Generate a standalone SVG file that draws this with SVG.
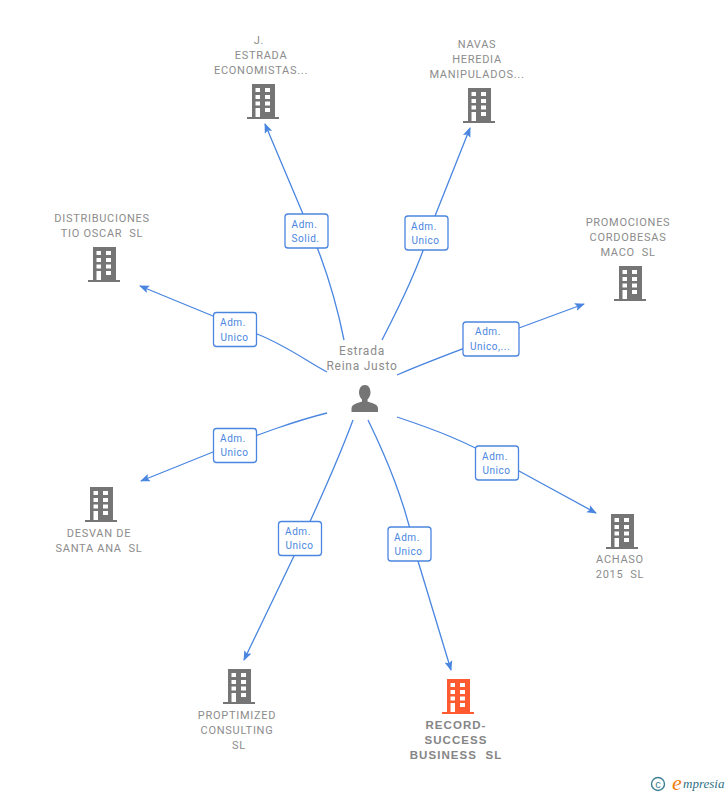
<svg xmlns="http://www.w3.org/2000/svg" width="728" height="795" viewBox="0 0 728 795">
<style>
text{font-family:Roboto,"Liberation Sans",sans-serif;font-size:11px;letter-spacing:.72px;text-anchor:middle;fill:#8c8c8c;white-space:pre}
.c{fill:none;stroke:#4a86e0;stroke-width:1.3}
.box{fill:#fff;stroke:#4a86e0;stroke-width:1.3}
.l text{fill:#4a86e0;font-size:10px;letter-spacing:.55px}
.b{font-family:"Liberation Sans",sans-serif;font-size:11.500px;font-weight:700;letter-spacing:1.05px;fill:#858585}
.p{font-size:12px;letter-spacing:.75px}
.g{fill:#757575}
</style>
<defs>
<marker id="a" markerUnits="userSpaceOnUse" markerWidth="12" markerHeight="12" refX="9" refY="5" orient="auto"><path d="M0 1L10 5L0 9L2 5Z" fill="#4a86e0"/></marker>
<path id="bd" fill-rule="evenodd" d="M5 0H28V33H32V35H0V33H5ZM8.500 4V8H13V4ZM18 4V8H23V4ZM8.500 11V15H13V11ZM18 11V15H23V11ZM8.500 17.500V21.500H13V17.500ZM18 17.500V21.500H23V17.500ZM8.500 24V33H13V24ZM18 24V28H23V24Z"/>
</defs>
<g id="connectors">
<path class="c" marker-end="url(#a)" d="M344 340C335 295 322 255 303 214L265 124"/>
<path class="c" marker-end="url(#a)" d="M382 340C400 305 420 265 435 216L470 128"/>
<path class="c" marker-end="url(#a)" d="M397 375C420 365 445 355 519 328L584 304"/>
<path class="c" marker-end="url(#a)" d="M397 417C430 428 465 440 519 471L596 513"/>
<path class="c" marker-end="url(#a)" d="M368 420C385 455 405 500 418 561L451 670"/>
<path class="c" marker-end="url(#a)" d="M353 420C340 455 318 505 294 556L244 660"/>
<path class="c" marker-end="url(#a)" d="M327 413C295 421 265 432 213 452L141 481"/>
<path class="c" marker-end="url(#a)" d="M327 372C305 360 285 345 257 334L213 316L140 286"/>
</g>
<g class="l">
<g id="edge-label-1"><rect class="box" x="285" y="214" width="43" height="34" rx="3"/><text x="304.500" y="228">Adm.</text><text x="305.500" y="242">Solid.</text></g>
<g id="edge-label-2"><rect class="box" x="405" y="216" width="43" height="34" rx="3"/><text x="424" y="230">Adm.</text><text x="425.500" y="244">Unico</text></g>
<g id="edge-label-3"><rect class="box" x="463" y="322" width="56" height="34" rx="3"/><text x="488" y="335">Adm.</text><text x="490" y="350">Unico,...</text></g>
<g id="edge-label-4"><rect class="box" x="475.500" y="446" width="43" height="34" rx="3"/><text x="495" y="460">Adm.</text><text x="496.500" y="474">Unico</text></g>
<g id="edge-label-5"><rect class="box" x="388" y="527" width="43" height="34" rx="3"/><text x="407" y="541">Adm.</text><text x="408.500" y="555">Unico</text></g>
<g id="edge-label-6"><rect class="box" x="278.500" y="521.500" width="43" height="34" rx="3"/><text x="298" y="535">Adm.</text><text x="299.500" y="549">Unico</text></g>
<g id="edge-label-7"><rect class="box" x="213.500" y="428.500" width="43" height="34" rx="3"/><text x="233" y="442">Adm.</text><text x="234.500" y="456">Unico</text></g>
<g id="edge-label-8"><rect class="box" x="213.500" y="312.500" width="43" height="34" rx="3"/><text x="233" y="326">Adm.</text><text x="234.500" y="341">Unico</text></g>
</g>
<g id="person"><text class="p" x="362" y="355">Estrada</text><text class="p" x="362" y="370">Reina Justo</text>
<path class="g" d="M365 385c-4 0-6 3.500-6 7.500 0 3 1.500 5.500 3 7v2c-3 1.500-10.500 2-10.500 7V412H378V408.500c0-5-7.500-5.500-10.500-7v-2c1.500-1.500 3-4 3-7 0-4-2-7.500-5.500-7.500Z"/></g>
<g id="n-j"><text x="259" y="44">J.</text><text x="261" y="59">ESTRADA</text><text x="261" y="74">ECONOMISTAS...</text><use class="g" href="#bd" x="247" y="84"/></g>
<g id="n-navas"><text x="477" y="48">NAVAS</text><text x="477" y="63">HEREDIA</text><text x="477" y="78">MANIPULADOS...</text><use class="g" href="#bd" x="463" y="88"/></g>
<g id="n-promo"><text x="628" y="226">PROMOCIONES</text><text x="628" y="241">CORDOBESAS</text><text x="628" y="256">MACO  SL</text><use class="g" href="#bd" x="614" y="266"/></g>
<g id="n-achaso"><use class="g" href="#bd" x="606" y="514"/><text x="620" y="563">ACHASO</text><text x="620" y="578">2015  SL</text></g>
<g id="n-record"><use href="#bd" x="442" y="679" fill="#ff5a30"/><text class="b" x="456" y="729">RECORD-</text><text class="b" x="456" y="744">SUCCESS</text><text class="b" x="456" y="759">BUSINESS  SL</text></g>
<g id="n-proptimized"><use class="g" href="#bd" x="223" y="669"/><text x="237" y="719">PROPTIMIZED</text><text x="237" y="734">CONSULTING</text><text x="239" y="749">SL</text></g>
<g id="n-desvan"><use class="g" href="#bd" x="85" y="487"/><text x="99" y="537">DESVAN DE</text><text x="99" y="552">SANTA ANA  SL</text></g>
<g id="n-distrib"><text x="102" y="222">DISTRIBUCIONES</text><text x="102" y="237">TIO OSCAR  SL</text><use class="g" href="#bd" x="88" y="247"/></g>
<g id="logo"><circle cx="658" cy="784" r="6.500" fill="none" stroke="#3f7f95" stroke-width="1.400"/><text x="658" y="788" style="font-family:'Liberation Sans',sans-serif;font-size:11px;fill:#3f7f95;letter-spacing:0">c</text><text x="677" y="790" style="font-family:'Liberation Serif',serif;font-style:italic;font-size:22px;fill:#f08010;letter-spacing:0">e</text><text x="683" y="788" style="text-anchor:start;font-family:'Liberation Serif',serif;font-style:italic;font-size:13px;fill:#2f6f85;letter-spacing:0">mpresia</text></g>
</svg>
